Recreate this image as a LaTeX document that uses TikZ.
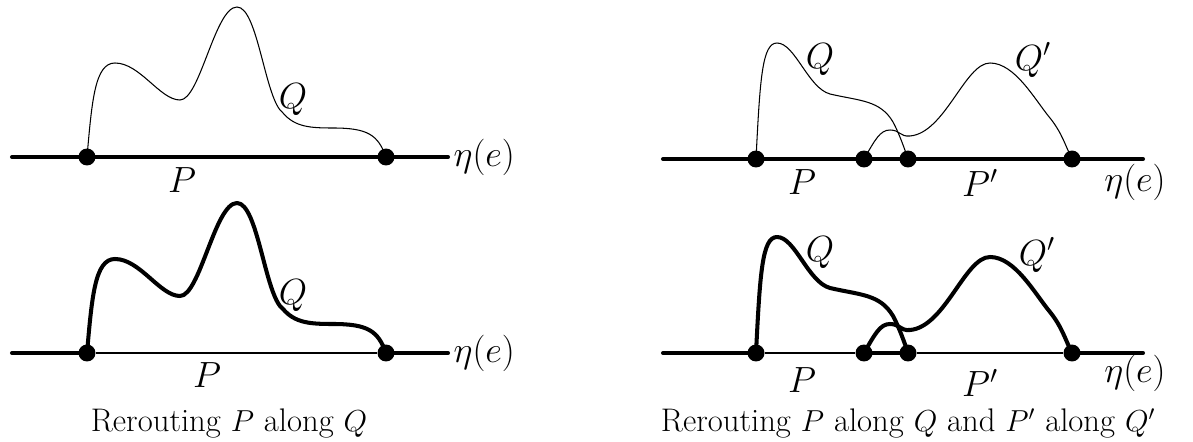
\documentclass[tikz,border=0pt]{standalone}
\usepackage{amsmath,amssymb}
\usetikzlibrary{positioning,calc}

\begin{document}
\begin{tikzpicture}[
    x=0.02cm, y=-0.02cm,
    every node/.style={font=\fontsize{20}{24}\selectfont},
    caption/.style={font=\fontsize{18.6}{22}\selectfont},
    dot/.style={circle, fill=black, inner sep=0pt, minimum size=0.34cm},
    axis/.style={line width=2.3pt, line cap=round},
    thinpath/.style={line width=0.6pt},
    thickpath/.style={line width=2.3pt, line cap=round, line join=round},
    baseline/.style={line width=0.6pt}
]
    \useasboundingbox (0,0) rectangle (1193,442);

    % left, top: P and Q
    \coordinate (la) at (12,157);
    \coordinate (lb) at (448,157);
    \node[dot] (p1) at (87,157) {};
    \node[dot] (p2) at (386,157) {};
    \draw[axis] (la) -- (lb);
    \draw[thinpath] (p1.center) .. controls (92,100) and (95,63) .. (115,63)
        .. controls (140,63) and (160,100) .. (180,100)
        .. controls (200,100) and (215,7) .. (237,7)
        .. controls (258,7) and (265,100) .. (283,113)
        .. controls (295,127) and (310,128) .. (333,128)
        .. controls (368,128) and (378,135) .. (p2.center);
    \node (q1) at (293,100) {$Q$};
    \node (lp1) at (182,180) {$P$};
    \node[right=3pt of lb, inner sep=0pt] (eta1) {$\eta(e)$};

    % left, bottom: rerouted
    \coordinate (lc) at (12,353);
    \coordinate (ld) at (448,353);
    \node[dot] (p3) at (87,353) {};
    \node[dot] (p4) at (386,353) {};
    \draw[axis] (lc) -- (p3.center);
    \draw[axis] (p4.center) -- (ld);
    \draw[baseline] (p3) -- (p4);
    \draw[thickpath] (p3.center) .. controls (92,296) and (95,259) .. (115,259)
        .. controls (140,259) and (160,296) .. (180,296)
        .. controls (200,296) and (215,203) .. (237,203)
        .. controls (258,203) and (265,296) .. (283,309)
        .. controls (295,323) and (310,324) .. (333,324)
        .. controls (368,324) and (378,331) .. (p4.center);
    \node (q2) at (293,296) {$Q$};
    \node (lp2) at (207,375) {$P$};
    \node[right=3pt of ld, inner sep=0pt] (eta2) {$\eta(e)$};
    \node[caption] (cap1) at (229,423) {Rerouting $P$ along $Q$};

    % right, top: P, P', Q, Q'
    \coordinate (ra) at (663,159);
    \coordinate (rb) at (1143,159);
    \node[dot] (s1) at (756,159) {};
    \node[dot] (s2) at (864,159) {};
    \node[dot] (t1) at (908,159) {};
    \node[dot] (t2) at (1072,159) {};
    \draw[axis] (ra) -- (rb);
    \draw[thinpath] (s1.center) .. controls (760,80) and (762,43) .. (777,43)
        .. controls (795,43) and (808,88) .. (830,94)
        .. controls (860,101) and (880,100) .. (893,122)
        .. controls (899,133) and (905,150) .. (t1.center);
    \draw[thinpath] (s2.center) .. controls (875,140) and (880,130) .. (890,130)
        .. controls (900,130) and (900,137) .. (910,136)
        .. controls (945,133) and (965,63) .. (990,63)
        .. controls (1015,63) and (1035,100) .. (1050,118)
        .. controls (1062,133) and (1065,145) .. (t2.center);
    \node (q3) at (820,60) {$Q$};
    \node (q4) at (1033,60) {$Q'$};
    \node (rp1) at (802,182) {$P$};
    \node (rp2) at (980,183) {$P'$};
    \node (eta3) at (1135,182) {$\eta(e)$};

    % right, bottom: both rerouted
    \coordinate (rc) at (663,353);
    \coordinate (rd) at (1143,353);
    \node[dot] (s3) at (756,353) {};
    \node[dot] (s4) at (864,353) {};
    \node[dot] (t3) at (908,353) {};
    \node[dot] (t4) at (1072,353) {};
    \draw[axis] (rc) -- (s3.center);
    \draw[axis] (s4.center) -- (t3.center);
    \draw[axis] (t4.center) -- (rd);
    \draw[baseline] (s3) -- (s4);
    \draw[baseline] (t3) -- (t4);
    \draw[thickpath] (s3.center) .. controls (760,274) and (762,237) .. (777,237)
        .. controls (795,237) and (808,282) .. (830,288)
        .. controls (860,295) and (880,294) .. (893,316)
        .. controls (899,327) and (905,344) .. (t3.center);
    \draw[thickpath] (s4.center) .. controls (875,334) and (880,324) .. (890,324)
        .. controls (900,324) and (900,331) .. (910,330)
        .. controls (945,327) and (965,257) .. (990,257)
        .. controls (1015,257) and (1035,294) .. (1050,312)
        .. controls (1062,327) and (1065,339) .. (t4.center);
    \node (q5) at (820,253) {$Q$};
    \node (q6) at (1037,255) {$Q'$};
    \node (rp3) at (802,380) {$P$};
    \node (rp4) at (980,383) {$P'$};
    \node (eta4) at (1135,373) {$\eta(e)$};
    \node[caption] (cap2) at (908,423) {Rerouting $P$ along $Q$ and $P'$ along $Q'$};
\end{tikzpicture}
\end{document}
